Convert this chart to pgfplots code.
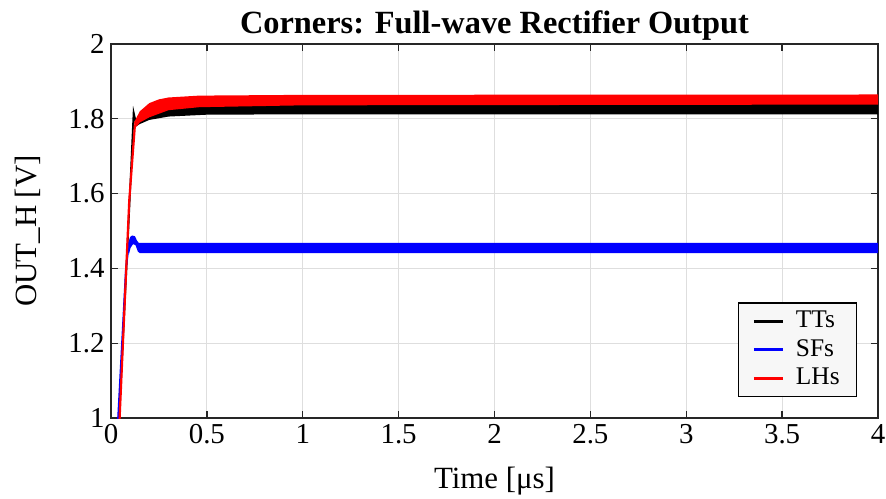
\documentclass[border=0pt]{standalone}
\usepackage{fontspec}
\setmainfont{Liberation Serif}
\usepackage{pgfplots}
\pgfplotsset{compat=1.18}
\definecolor{gridc}{gray}{0.87}
\definecolor{axc}{gray}{0.15}
\begin{document}
\begin{tikzpicture}
\begin{axis}[
  scale only axis, width=767bp, height=374bp,
  xmin=0, xmax=4, ymin=1, ymax=2,
  xtick={0,0.5,...,4}, ytick={1,1.2,1.4,1.6,1.8,2},
  xticklabels={0,0.5,1,1.5,2,2.5,3,3.5,4},
  yticklabels={1,1.2,1.4,1.6,1.8,2},
  /pgf/number format/assume math mode=true,
  grid=major, major grid style={gridc, line width=1.2bp},
  axis line style={axc, line width=1.3bp},
  tick style={axc, line width=1.3bp},
  tick align=inside, major tick length=7bp,
  xtick pos=both, ytick pos=both,
  tick label style={font=\fontsize{29}{33}\selectfont},
  xticklabel style={yshift=-3bp},
  yticklabel style={xshift=-3bp},
  label style={font=\fontsize{31}{36}\selectfont},
  title style={font=\bfseries\fontsize{32.5}{38}\selectfont, yshift=-6bp},
  title={Corners: Full-wave Rectifier Output},
  xlabel={Time [μs]}, ylabel={OUT\_H [V]},
  xlabel style={at={(axis description cs:0.5,0)}, anchor=center, yshift=-63bp},
  ylabel style={at={(axis description cs:0,0.5)}, anchor=center, yshift=83bp},
  legend style={at={(0.973,0.056)}, anchor=south east, fill=black!3, draw=black,
    line width=1.2bp, font=\fontsize{25.5}{28}\selectfont, inner sep=4bp,
    row sep=0bp, legend cell align=left,
    nodes={inner sep=2bp, text height=19bp, text depth=5.5bp}},
  legend image code/.code={\path (0bp,0bp); \draw[line width=3bp] (10bp,0bp) -- (39bp,0bp); \path (49bp,0bp);},
  clip=true,
]
% TTs (black)
\addplot[black, line width=1.8bp] coordinates {(0.030,0.9) (0.042,1.0) (0.09,1.5) (0.118,1.817) (0.13,1.79)};
\addlegendentry{TTs\kern11bp}
\addplot[fill=black, draw=none, forget plot] coordinates {
 (0.118,1.817) (0.128,1.795) (0.15,1.81) (0.2,1.83) (0.3,1.84) (0.5,1.845) (1,1.846) (4,1.846)
 (4,1.812) (1,1.812) (0.5,1.811) (0.3,1.806) (0.2,1.797) (0.15,1.786) (0.13,1.779) (0.12,1.80)};
% SFs (blue)
\addplot[blue, line width=1.8bp] coordinates {(0.028,0.9) (0.037,1.0) (0.078,1.4) (0.095,1.47)};
\addlegendentry{SFs\kern11bp}
\addplot[fill=blue, draw=none, forget plot] coordinates {
 (0.09,1.47) (0.1,1.484) (0.11,1.488) (0.125,1.486) (0.135,1.475) (0.145,1.468) (4,1.468)
 (4,1.441) (0.15,1.441) (0.14,1.445) (0.128,1.462) (0.115,1.465) (0.102,1.455) (0.095,1.44)};
% LHs (red)
\addplot[red, line width=2.2bp] coordinates {(0.034,0.9) (0.045,1.0) (0.095,1.58) (0.125,1.785)};
\addlegendentry{LHs\kern11bp}
\addplot[fill=red, draw=none, forget plot] coordinates {
 (0.12,1.79) (0.13,1.8) (0.15,1.82) (0.2,1.842) (0.25,1.852) (0.3,1.857) (0.46,1.862) (1,1.864) (4,1.865)
 (4,1.838) (1,1.836) (0.46,1.831) (0.3,1.823) (0.2,1.804) (0.15,1.79) (0.135,1.78) (0.125,1.78)};
\end{axis}
\pgfresetboundingbox
\path ([shift={(-111bp,-81bp)}]current axis.south west) rectangle ([shift={(8bp,44bp)}]current axis.north east);
\end{tikzpicture}
\end{document}
